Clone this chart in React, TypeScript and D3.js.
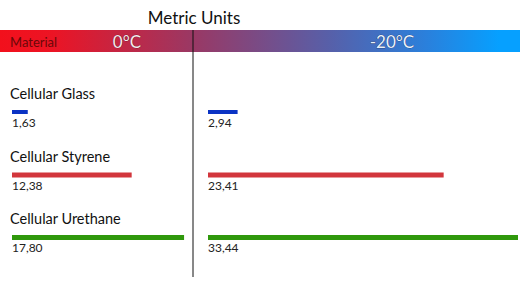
import React from "react";
import * as d3 from "d3";

const materials = ["Cellular Glass", "Cellular Styrene", "Cellular Urethane"];
const values0C = [1.63, 12.38, 17.8];
const valuesMinus20C = [2.94, 23.41, 33.44];
const barColors = ["#0a33c4", "#d2363c", "#2f980c"];
const columnHeaders = ["0°C", "-20°C"];

const W = 520;
const H = 297;
const fmt = d3.formatLocale({ decimal: ",", thousands: ".", grouping: [3], currency: ["", ""] }).format(".2f");

export default function App() {
  const font = "Lato, 'Open Sans', sans-serif";
  const xLeft = d3.scaleLinear().domain([0, 18]).range([12, 186]).clamp(true);
  const xRight = d3.scaleLinear().domain([0, 30]).range([208, 510]).clamp(false);
  const yRow = d3.scalePoint<string>().domain(materials).range([99, 224]);
  const dividerX = 193;

  const panels = [
    { values: values0C, x: xLeft },
    { values: valuesMinus20C, x: xRight },
  ];

  return (
    <svg width={W} height={H} style={{ position: "absolute", left: 0, top: 0, background: "#fff" }} fontFamily={font}>
      <defs>
        <linearGradient id="band" x1="0" x2="1" y1="0" y2="0">
          <stop offset="0" stopColor="#f2101c" />
          <stop offset="0.1" stopColor="#ec1424" />
          <stop offset="0.37" stopColor="#9a3864" />
          <stop offset="0.63" stopColor="#585fa8" />
          <stop offset="0.82" stopColor="#2a80dc" />
          <stop offset="0.96" stopColor="#06a0ff" />
          <stop offset="1" stopColor="#06a0ff" />
        </linearGradient>
        <clipPath id="clipRight">
          <rect x={0} y={0} width={518} height={H} />
        </clipPath>
      </defs>
      <text x={194} y={24} textAnchor="middle" fontSize={17} fill="#111">Metric Units</text>
      <rect x={0} y={30} width={W} height={22} fill="url(#band)" />
      <text x={10} y={47} fontSize={13} fill="#6a0808">Material</text>
      <text x={127} y={48} textAnchor="middle" fontSize={17} fill="#f6e8ec" stroke="#3a0c18" strokeWidth={0.5} paintOrder="stroke">{columnHeaders[0]}</text>
      <text x={392} y={48} textAnchor="middle" fontSize={17} fill="#e8f0fa" stroke="#10204a" strokeWidth={0.5} paintOrder="stroke">{columnHeaders[1]}</text>
      <line x1={dividerX} x2={dividerX} y1={30} y2={277} stroke="#111" strokeWidth={1} />
      {materials.map((m, i) => {
        const y = yRow(m) as number;
        return (
          <g key={m}>
            <text x={10} y={y} fontSize={14.5} fill="#111">{m}</text>
            {panels.map((p, j) => {
              const x0 = p.x(0);
              const x1 = p.x(p.values[i]);
              return (
                <g key={j} clipPath="url(#clipRight)">
                  <rect x={x0} y={y + 11} width={x1 - x0} height={i === 0 ? 4 : 5} fill={barColors[i]} />
                  <text x={x0} y={y + 28} fontSize={12} fill="#222">{fmt(p.values[i])}</text>
                </g>
              );
            })}
          </g>
        );
      })}
    </svg>
  );
}
